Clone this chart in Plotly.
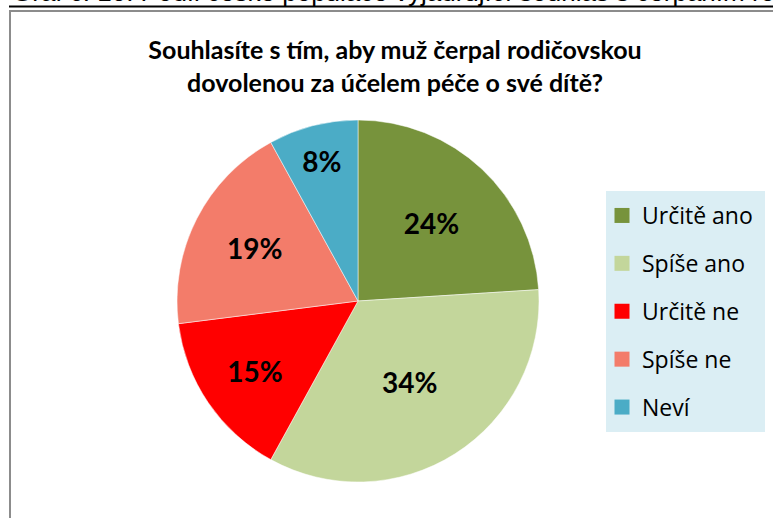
import plotly.graph_objects as go

# ---- data ----
categories = ["Určitě ano", "Spíše ano", "Určitě ne", "Spíše ne", "Neví"]
values = [24, 34, 15, 19, 8]
colors = ["#77933C", "#C3D69B", "#FF0000", "#F37C6A", "#4BACC6"]
title_text = "Souhlasíte s tím, aby muž čerpal rodičovskou<br>dovolenou za účelem péče o své dítě?"
caption_text = "Graf č. 10: Podíl české populace vyjadřující souhlas s čerpáním rodičovské dovolené muži"

W, H = 773, 518

def px(x):
    return x / W

def py(y):
    return 1 - y / H

fig = go.Figure()

cx, cy, r = 358, 301, 181
fig.add_trace(go.Pie(
    labels=categories,
    values=values,
    marker=dict(colors=colors, line=dict(color="white", width=0.5)),
    sort=False,
    direction="clockwise",
    rotation=0,
    texttemplate="%{value}%",
    textposition="inside",
    insidetextorientation="horizontal",
    textfont=dict(family="Lato", size=28, color="black", weight="bold"),
    domain=dict(x=[px(cx - r), px(cx + r)], y=[py(cy + r), py(cy - r)]),
    showlegend=False,
    hoverinfo="label+percent",
))

# legend entries (one group per category for spacing)
for i, (cat, col) in enumerate(zip(categories, colors)):
    fig.add_trace(go.Scatter(
        x=[None], y=[None], mode="markers", name=cat,
        marker=dict(symbol="square", size=15, color=col),
        legendgroup=f"g{i}", showlegend=True,
    ))

fig.update_layout(
    width=W, height=H,
    margin=dict(l=0, r=0, t=0, b=0),
    paper_bgcolor="white", plot_bgcolor="white",
    xaxis=dict(visible=False), yaxis=dict(visible=False),
    title=dict(
        text=title_text,
        x=px(395), xanchor="center",
        y=py(59), yanchor="middle",
        font=dict(family="Lato", size=25, color="black", weight="bold"),
    ),
    legend=dict(
        x=px(602), xanchor="left",
        y=py(194), yanchor="top",
        bgcolor="rgba(0,0,0,0)",
        borderwidth=0,
        font=dict(family="Open Sans", size=23, color="black"),
        tracegroupgap=15,
        itemsizing="trace",
    ),
    shapes=[
        # legend box
        dict(type="rect", xref="paper", yref="paper", layer="below",
             x0=px(606), x1=px(765), y0=py(432), y1=py(191),
             fillcolor="#DBEEF4", line=dict(width=0)),
        # chart frame
        dict(type="line", xref="paper", yref="paper",
             x0=px(10), x1=px(800), y0=py(11), y1=py(11),
             line=dict(color="#8C8C8C", width=2)),
        dict(type="line", xref="paper", yref="paper",
             x0=px(10), x1=px(10), y0=py(10), y1=py(540),
             line=dict(color="#8C8C8C", width=2)),
        # caption underline
        dict(type="line", xref="paper", yref="paper",
             x0=px(9), x1=px(800), y0=py(6.5), y1=py(6.5),
             line=dict(color="black", width=2)),
    ],
    annotations=[
        dict(text=caption_text, xref="paper", yref="paper",
             x=px(10), xanchor="left", y=py(-8.5), yanchor="middle",
             showarrow=False,
             font=dict(family="Liberation Sans", size=26, color="black")),
    ],
)

fig.write_html(
    "out.html",
    config={"displayModeBar": False},
    post_script="document.body.style.margin='0';document.body.style.overflow='hidden';",
)
